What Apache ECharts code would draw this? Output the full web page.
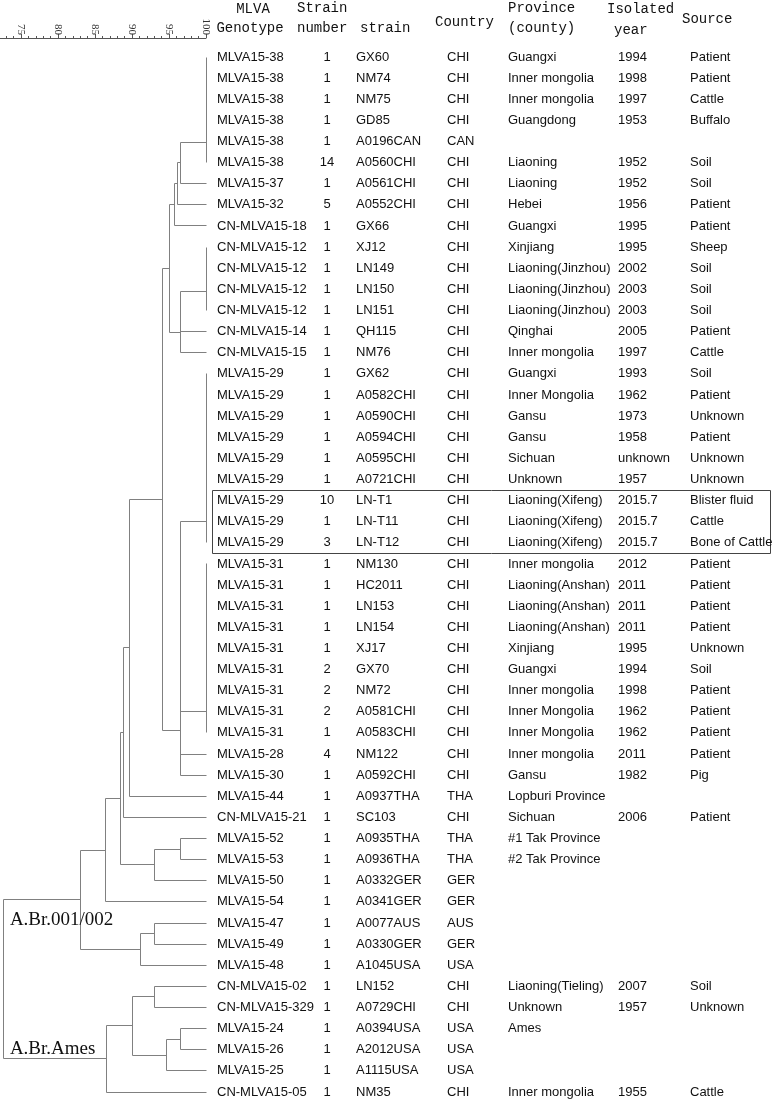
<!DOCTYPE html>
<html><head><meta charset="utf-8">
<script src="https://cdn.jsdelivr.net/npm/echarts@6/dist/echarts.min.js"></script>
<style>html,body{margin:0;padding:0;background:#fff}#c{width:772px;height:1100px}</style>
</head><body><div id="c"></div>
<script>
// ---------------- DATA ----------------
const genotypes = ['MLVA15-38','MLVA15-38','MLVA15-38','MLVA15-38','MLVA15-38','MLVA15-38','MLVA15-37','MLVA15-32','CN-MLVA15-18',
  'CN-MLVA15-12','CN-MLVA15-12','CN-MLVA15-12','CN-MLVA15-12','CN-MLVA15-14','CN-MLVA15-15',
  'MLVA15-29','MLVA15-29','MLVA15-29','MLVA15-29','MLVA15-29','MLVA15-29','MLVA15-29','MLVA15-29','MLVA15-29',
  'MLVA15-31','MLVA15-31','MLVA15-31','MLVA15-31','MLVA15-31','MLVA15-31','MLVA15-31','MLVA15-31','MLVA15-31',
  'MLVA15-28','MLVA15-30','MLVA15-44','CN-MLVA15-21','MLVA15-52','MLVA15-53','MLVA15-50','MLVA15-54','MLVA15-47',
  'MLVA15-49','MLVA15-48','CN-MLVA15-02','CN-MLVA15-329','MLVA15-24','MLVA15-26','MLVA15-25','CN-MLVA15-05'];
const strainNumbers = ['1','1','1','1','1','14','1','5','1',
  '1','1','1','1','1','1',
  '1','1','1','1','1','1','10','1','3',
  '1','1','1','1','1','2','2','2','1',
  '4','1','1','1','1','1','1','1','1',
  '1','1','1','1','1','1','1','1'];
const strains = ['GX60','NM74','NM75','GD85','A0196CAN','A0560CHI','A0561CHI','A0552CHI','GX66',
  'XJ12','LN149','LN150','LN151','QH115','NM76',
  'GX62','A0582CHI','A0590CHI','A0594CHI','A0595CHI','A0721CHI','LN-T1','LN-T11','LN-T12',
  'NM130','HC2011','LN153','LN154','XJ17','GX70','NM72','A0581CHI','A0583CHI',
  'NM122','A0592CHI','A0937THA','SC103','A0935THA','A0936THA','A0332GER','A0341GER','A0077AUS',
  'A0330GER','A1045USA','LN152','A0729CHI','A0394USA','A2012USA','A1115USA','NM35'];
const countries = ['CHI','CHI','CHI','CHI','CAN','CHI','CHI','CHI','CHI',
  'CHI','CHI','CHI','CHI','CHI','CHI',
  'CHI','CHI','CHI','CHI','CHI','CHI','CHI','CHI','CHI',
  'CHI','CHI','CHI','CHI','CHI','CHI','CHI','CHI','CHI',
  'CHI','CHI','THA','CHI','THA','THA','GER','GER','AUS',
  'GER','USA','CHI','CHI','USA','USA','USA','CHI'];
const provinces = ['Guangxi','Inner mongolia','Inner mongolia','Guangdong','','Liaoning','Liaoning','Hebei','Guangxi',
  'Xinjiang','Liaoning(Jinzhou)','Liaoning(Jinzhou)','Liaoning(Jinzhou)','Qinghai','Inner mongolia',
  'Guangxi','Inner Mongolia','Gansu','Gansu','Sichuan','Unknown','Liaoning(Xifeng)','Liaoning(Xifeng)','Liaoning(Xifeng)',
  'Inner mongolia','Liaoning(Anshan)','Liaoning(Anshan)','Liaoning(Anshan)','Xinjiang','Guangxi','Inner mongolia','Inner Mongolia','Inner Mongolia',
  'Inner mongolia','Gansu','Lopburi Province','Sichuan','#1 Tak Province','#2 Tak Province','','','',
  '','','Liaoning(Tieling)','Unknown','Ames','','','Inner mongolia'];
const years = ['1994','1998','1997','1953','','1952','1952','1956','1995',
  '1995','2002','2003','2003','2005','1997',
  '1993','1962','1973','1958','unknown','1957','2015.7','2015.7','2015.7',
  '2012','2011','2011','2011','1995','1994','1998','1962','1962',
  '2011','1982','','2006','','','','','',
  '','','2007','1957','','','','1955'];
const sources = ['Patient','Patient','Cattle','Buffalo','','Soil','Soil','Patient','Patient',
  'Sheep','Soil','Soil','Soil','Patient','Cattle',
  'Soil','Patient','Unknown','Patient','Unknown','Unknown','Blister fluid','Cattle','Bone of Cattle',
  'Patient','Patient','Patient','Patient','Unknown','Soil','Patient','Patient','Patient',
  'Patient','Pig','','Patient','','','','','',
  '','','Soil','Unknown','','','','Cattle'];

// Dendrogram: [node, similarity (%), children (row numbers or node names)]
const treeNodes = [
  ['A', 100, [1,2,3,4,5,6]],
  ['B', 96.5, ['A',7]],
  ['C', 96.1, ['B',8]],
  ['D', 95.7, ['C',9]],
  ['G', 100, [10,11,12,13]],
  ['F', 96.5, ['G',14,15]],
  ['E', 95.0, ['D','F']],
  ['K', 100, [16,17,18,19,20,21,22,23,24]],
  ['L', 100, [25,26,27,28,29,30,31,32,33]],
  ['M', 96.5, ['K','L',34,35]],
  ['H', 94.1, ['E','M']],
  ['I', 89.7, ['H',36]],
  ['N', 88.8, ['I',37]],
  ['Q', 96.5, [38,39]],
  ['P', 93.0, ['Q',40]],
  ['O', 88.4, ['N','P']],
  ['R', 86.4, ['O',41]],
  ['U', 93.0, [42,43]],
  ['T', 91.1, ['U',44]],
  ['S', 83.0, ['R','T']],
  ['V', 93.0, [45,46]],
  ['W', 96.5, [47,48]],
  ['X', 94.7, ['W',49]],
  ['Y', 90.0, ['V','X']],
  ['AA', 86.5, ['Y',50]],
  ['root', 72.6, ['S','AA']]
];
const cladeLabels = [['A.Br.001/002', 73.5, 41.85], ['A.Br.Ames', 73.5, 47.95]];
const highlightedRows = [22, 24];
const scaleMin = 70, scaleMax = 100, scaleStep = 5;

// ---------------- BUILD ----------------
const nRows = genotypes.length;
const nodeMap = {};
const pos = c => typeof c === 'number' ? {x: scaleMax, y: c} : nodeMap[c];
const segments = [];
treeNodes.forEach(([name, sim, kids]) => {
  const ps = kids.map(pos);
  let y = ps[0].y;
  for (let k = 1; k < ps.length; k++) y = (y + ps[k].y) / 2;
  const ys = ps.map(p => p.y);
  segments.push([sim, Math.min(...ys), sim, Math.max(...ys)]);
  ps.forEach(p => { if (p.x !== sim) segments.push([sim, p.y, p.x, p.y]); });
  nodeMap[name] = {x: sim, y: y};
});

const snap = v => Math.round(v - 0.5) + 0.5;
const LINE = '#808080', TXT = '#111';
const BODY_FONT = '"Liberation Sans", Arial, sans-serif';
const HEAD_FONT = '"Liberation Mono", monospace';

const tableColumns = [
  {values: genotypes, x: 217, align: 'left'},
  {values: strainNumbers, x: 327, align: 'center'},
  {values: strains, x: 356, align: 'left'},
  {values: countries, x: 447, align: 'left'},
  {values: provinces, x: 508, align: 'left'},
  {values: years, x: 618, align: 'left'},
  {values: sources, x: 690, align: 'left'}
];

const tableSeries = tableColumns.map(col => ({
  type: 'custom', coordinateSystem: 'cartesian2d', xAxisIndex: 1, yAxisIndex: 1, clip: false, silent: true,
  data: col.values.map((v, i) => [col.x, i + 1]),
  renderItem: (params, api) => {
    const p = api.coord([api.value(0), api.value(1)]);
    return {type: 'text', x: p[0], y: p[1],
      style: {text: col.values[params.dataIndex], fill: TXT, fontSize: 13, fontFamily: BODY_FONT,
              align: col.align, verticalAlign: 'middle'}};
  }
}));

const headers = [
  ['MLVA', 253, 9, 'center'], ['Genotype', 250, 28, 'center'],
  ['Strain', 297, 8, 'left'], ['number', 297, 28, 'left'],
  ['strain', 360, 28, 'left'],
  ['Country', 435, 22, 'left'],
  ['Province', 508, 8, 'left'], ['(county)', 508, 28, 'left'],
  ['Isolated', 607, 9, 'left'], ['year', 614, 30, 'left'],
  ['Source', 682, 19, 'left']
].map(([t, x, y, a]) => ({type: 'text', x: x, y: y,
  style: {text: t, fill: TXT, fontSize: 14, fontFamily: HEAD_FONT, align: a, verticalAlign: 'middle'}}));

const option = {
  animation: false,
  backgroundColor: '#fff',
  grid: [
    {left: -16, width: 222, top: 57, height: 1035, outerBoundsMode: 'none', containLabel: false},
    {left: 0, width: 772, top: 57, height: 1035, outerBoundsMode: 'none', containLabel: false}
  ],
  xAxis: [
    {gridIndex: 0, type: 'value', min: scaleMin, max: scaleMax, interval: scaleStep, position: 'top', offset: 19,
      axisLine: {show: true, lineStyle: {color: '#555', width: 1}},
      axisTick: {show: true, length: 4, lineStyle: {color: '#555'}},
      minorTick: {show: true, splitNumber: 5, length: 2, lineStyle: {color: '#555'}},
      axisLabel: {rotate: 90, fontSize: 11, fontFamily: '"Liberation Serif", serif', color: '#333', margin: 3},
      splitLine: {show: false}},
    {gridIndex: 1, type: 'value', min: 0, max: 772, show: false}
  ],
  yAxis: [
    {gridIndex: 0, type: 'value', min: 1, max: nRows, inverse: true, show: false},
    {gridIndex: 1, type: 'value', min: 1, max: nRows, inverse: true, show: false}
  ],
  graphic: headers,
  series: [
    {type: 'custom', coordinateSystem: 'cartesian2d', xAxisIndex: 0, yAxisIndex: 0, clip: false, silent: true,
      data: segments,
      renderItem: (params, api) => {
        const p1 = api.coord([api.value(0), api.value(1)]);
        const p2 = api.coord([api.value(2), api.value(3)]);
        return {type: 'line', shape: {x1: snap(p1[0]), y1: snap(p1[1]), x2: snap(p2[0]), y2: snap(p2[1])},
          style: {stroke: LINE, lineWidth: 1}};
      }},
    {type: 'custom', coordinateSystem: 'cartesian2d', xAxisIndex: 0, yAxisIndex: 0, clip: false, silent: true,
      data: cladeLabels.map(c => [c[1], c[2]]),
      renderItem: (params, api) => {
        const p = api.coord([api.value(0), api.value(1)]);
        return {type: 'text', x: p[0], y: p[1],
          style: {text: cladeLabels[params.dataIndex][0], fill: TXT, fontSize: 19,
                  fontFamily: '"Liberation Serif", serif', align: 'left', verticalAlign: 'middle'}};
      }},
    {type: 'custom', coordinateSystem: 'cartesian2d', xAxisIndex: 1, yAxisIndex: 1, clip: false, silent: true,
      data: [[212, highlightedRows[0] - 0.5, 770, highlightedRows[1] + 0.5]],
      renderItem: (params, api) => {
        const p1 = api.coord([api.value(0), api.value(1)]);
        const p2 = api.coord([api.value(2), api.value(3)]);
        return {type: 'rect', shape: {x: snap(p1[0]), y: snap(p1[1]), width: Math.round(p2[0] - p1[0]), height: Math.round(p2[1] - p1[1])},
          style: {fill: 'none', stroke: '#444', lineWidth: 1}};
      }}
  ].concat(tableSeries)
};

const chart = echarts.init(document.getElementById('c'), null, {renderer: 'canvas'});
chart.setOption(option);
</script></body></html>
